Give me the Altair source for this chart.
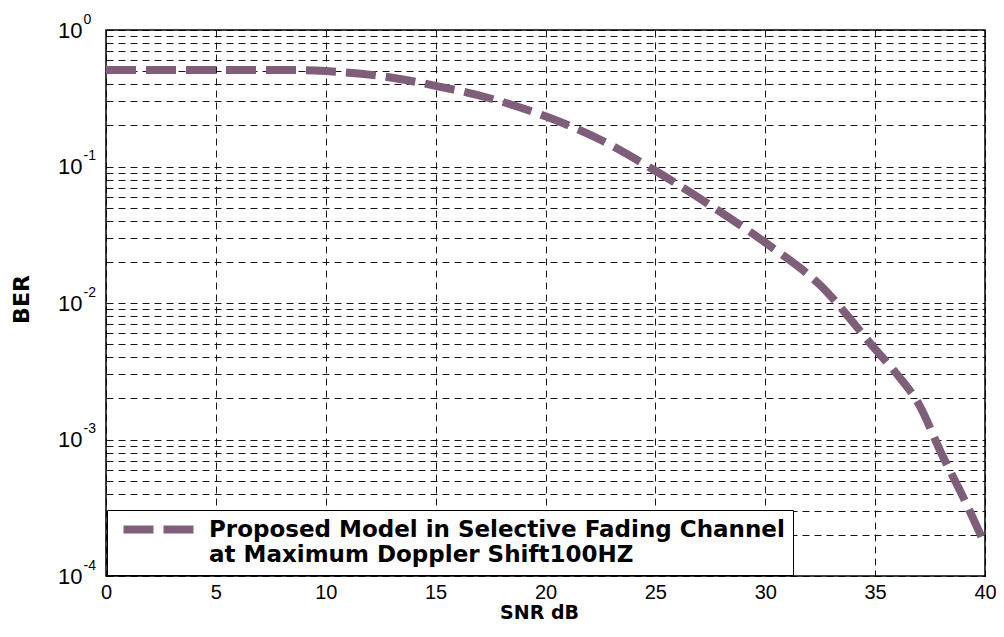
import altair as alt
import pandas as pd

snr_db = [0, 2, 4, 6, 8, 10, 12.5, 15, 17.5, 20, 22.5, 25, 27.5, 30, 32.5, 35, 36, 37, 38, 39, 40]
ber = [0.51, 0.51, 0.51, 0.51, 0.51, 0.50, 0.46, 0.39, 0.315, 0.233, 0.157, 0.093, 0.052,
       0.0277, 0.0135, 0.0046, 0.0030, 0.0018, 0.0008, 0.00038, 0.00017]
series_name = "Proposed Model in Selective Fading Channel|\u00a0at Maximum Doppler Shift100HZ"

x_ticks = [0, 5, 10, 15, 20, 25, 30, 35, 40]
decades = [1e-4, 1e-3, 1e-2, 1e-1, 1.0]
y_grid = [m * 10.0 ** k for k in range(-4, 0) for m in range(1, 10)] + [1.0]

df = pd.DataFrame({"snr": snr_db, "ber": ber, "series": [series_name] * len(snr_db)})

color = "#7e5e78"

x_enc = alt.X(
    "snr:Q",
    scale=alt.Scale(domain=[0, 40], nice=False, zero=False),
    axis=alt.Axis(
        values=x_ticks, title="SNR dB", grid=True, ticks=False, tickSize=0, domain=False,
        labelFont="Liberation Sans", labelFontSize=20, labelColor="#000", labelPadding=6,
        labelFlush=False,
        titleFont="DejaVu Sans", titleFontWeight="bold", titleFontSize=19, titleColor="#000",
        titleX=433, titleY=42, titleAlign="center", titleBaseline="alphabetic",
    ),
)

y_scale = alt.Scale(type="log", domain=[1e-4, 1], nice=False)

main = alt.Chart(df).mark_line(
    strokeWidth=8, strokeDash=[30, 10], strokeCap="butt", interpolate="monotone"
).encode(
    x=x_enc,
    y=alt.Y(
        "ber:Q",
        scale=y_scale,
        axis=alt.Axis(
            orient="left", values=y_grid, grid=True, ticks=False, tickSize=0, domain=False,
            labelExpr="abs(log(datum.value)/LN10 - round(log(datum.value)/LN10)) < 1e-6 ? '10' : ''",
            labelFont="Liberation Sans", labelFontSize=22, labelColor="#000", labelPadding=24,
            labelBaseline="middle", labelFlush=False, labelOverlap=False,
            title="BER", titleFont="DejaVu Sans", titleFontWeight="bold", titleFontSize=22,
            titleColor="#000", titleX=-85, titleY=269, titleAngle=270,
            titleAlign="center", titleBaseline="middle",
        ),
    ),
    color=alt.Color(
        "series:N",
        scale=alt.Scale(range=[color]),
        legend=alt.Legend(
            title=None, orient="none", legendX=1, legendY=480,
            fillColor="#fff", strokeColor="#000", padding=8,
            symbolType="M-5,0H5", symbolSize=196, symbolStrokeWidth=8, symbolDash=[30, 10],
            symbolOffset=32, labelOffset=39, labelLimit=1000,
            labelExpr="split(datum.label, '|')",
            labelFont="DejaVu Sans", labelFontWeight="bold", labelFontSize=23, labelColor="#000",
            labelBaseline="middle",
        ),
    ),
)

expo = alt.Chart(df).mark_line(strokeOpacity=0).encode(
    x=alt.X("snr:Q", scale=alt.Scale(domain=[0, 40], nice=False, zero=False)),
    y=alt.Y(
        "ber:Q",
        scale=y_scale,
        axis=alt.Axis(
            orient="left", values=decades, grid=False, ticks=False, tickSize=0, domain=False,
            labelExpr="'' + round(log(datum.value)/LN10)",
            labelFont="Liberation Sans", labelFontSize=14, labelColor="#000", labelPadding=23,
            labelAlign="left", labelBaseline="middle", labelOffset=-11, labelFlush=False,
            labelOverlap=False, title=None,
        ),
    ),
)

chart = alt.layer(main, expo).resolve_scale(y="shared").resolve_axis(y="independent").properties(
    width=879, height=546,
    autosize=alt.AutoSizeParams(type="none"),
    padding={"left": 98, "top": 22, "right": 11, "bottom": 50},
    background="#fff",
).configure_view(stroke="#000", strokeWidth=1.5).configure_axis(
    gridColor="#000", gridDash=[7, 5], gridWidth=1, gridOpacity=0.9
)

chart.save("out.html", embed_options={"renderer": "svg", "actions": False})
